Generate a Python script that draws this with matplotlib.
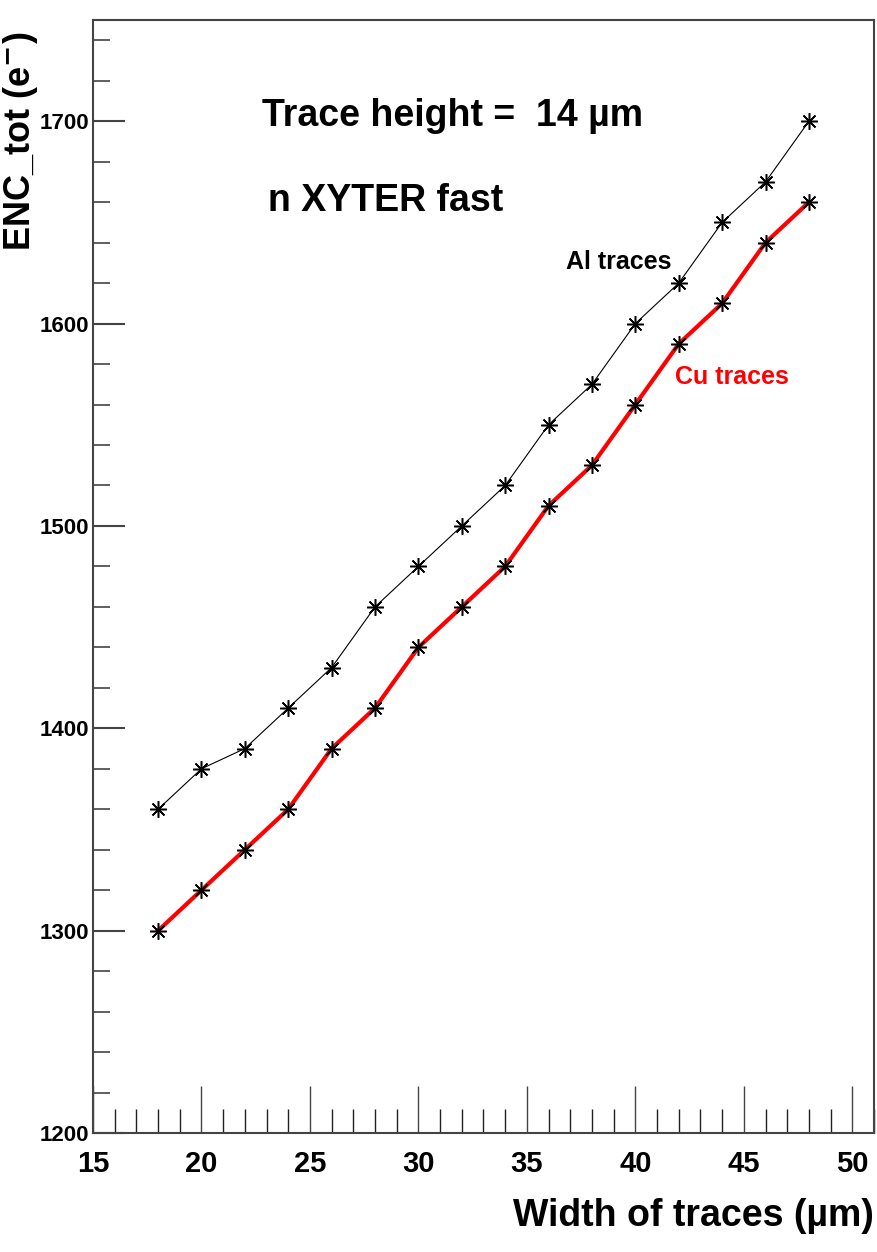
import matplotlib
matplotlib.use("Agg")
import matplotlib.pyplot as plt
from matplotlib.ticker import MultipleLocator

plt.rcParams['font.family'] = ['Liberation Sans', 'DejaVu Sans']

widths = [18, 20, 22, 24, 26, 28, 30, 32, 34, 36, 38, 40, 42, 44, 46, 48]
enc_al = [1360, 1380, 1390, 1410, 1430, 1460, 1480, 1500, 1520, 1550, 1570, 1600, 1620, 1650, 1670, 1700]
enc_cu = [1300, 1320, 1340, 1360, 1390, 1410, 1440, 1460, 1480, 1510, 1530, 1560, 1590, 1610, 1640, 1660]

fig = plt.figure(figsize=(8.77, 12.52), dpi=100)
ax = fig.add_axes([0.106, 0.095, 0.8906, 0.889])

star = (8, 2, 0)
ax.plot(widths, enc_al, color='black', lw=0.8, marker=star, ms=12, mew=1.1, mec='black')
ax.plot(widths, enc_cu, color='red', lw=3.0, marker=star, ms=12, mew=1.1, mec='black', mfc='black')

ax.set_xlim(15, 51)
ax.set_ylim(1200, 1750)

ax.xaxis.set_major_locator(MultipleLocator(5))
ax.xaxis.set_minor_locator(MultipleLocator(1))
ax.yaxis.set_major_locator(MultipleLocator(100))
ax.yaxis.set_minor_locator(MultipleLocator(20))
ax.tick_params(axis='x', which='major', direction='in', length=34, width=1.0, color='#444444',
               pad=12, labelsize=21)
ax.tick_params(axis='x', which='minor', direction='in', length=17, width=1.0, color='#222222')
ax.tick_params(axis='y', which='major', direction='in', length=23, width=1.5, color='#444444',
               pad=3, labelsize=16)
ax.tick_params(axis='y', which='minor', direction='in', length=12, width=1.2, color='#444444')
for lab in ax.get_xticklabels() + ax.get_yticklabels():
    lab.set_fontweight('bold')
for sp in ax.spines.values():
    sp.set_linewidth(1.5)
    sp.set_color('#444444')

ax.text(1.0, -0.058, 'Width of traces (\u00b5m)', transform=ax.transAxes, ha='right', va='top',
        fontsize=27, fontweight='bold')
ax.text(-0.093, 0.99, r'ENC_tot (e$^{\mathbf{-}}$)', transform=ax.transAxes, rotation=90,
        ha='center', va='top', fontsize=26, fontweight='bold')

ax.text(22.78, 1697.5, 'Trace height =  14 \u00b5m', fontsize=27, fontweight='bold')
ax.text(23.06, 1655.5, 'n XYTER fast', fontsize=27, fontweight='bold')
ax.text(36.82, 1627, 'Al traces', fontsize=18, fontweight='bold')
ax.text(41.84, 1570, 'Cu traces', fontsize=18, fontweight='bold', color='red')

fig.savefig('out.png', dpi=100)
